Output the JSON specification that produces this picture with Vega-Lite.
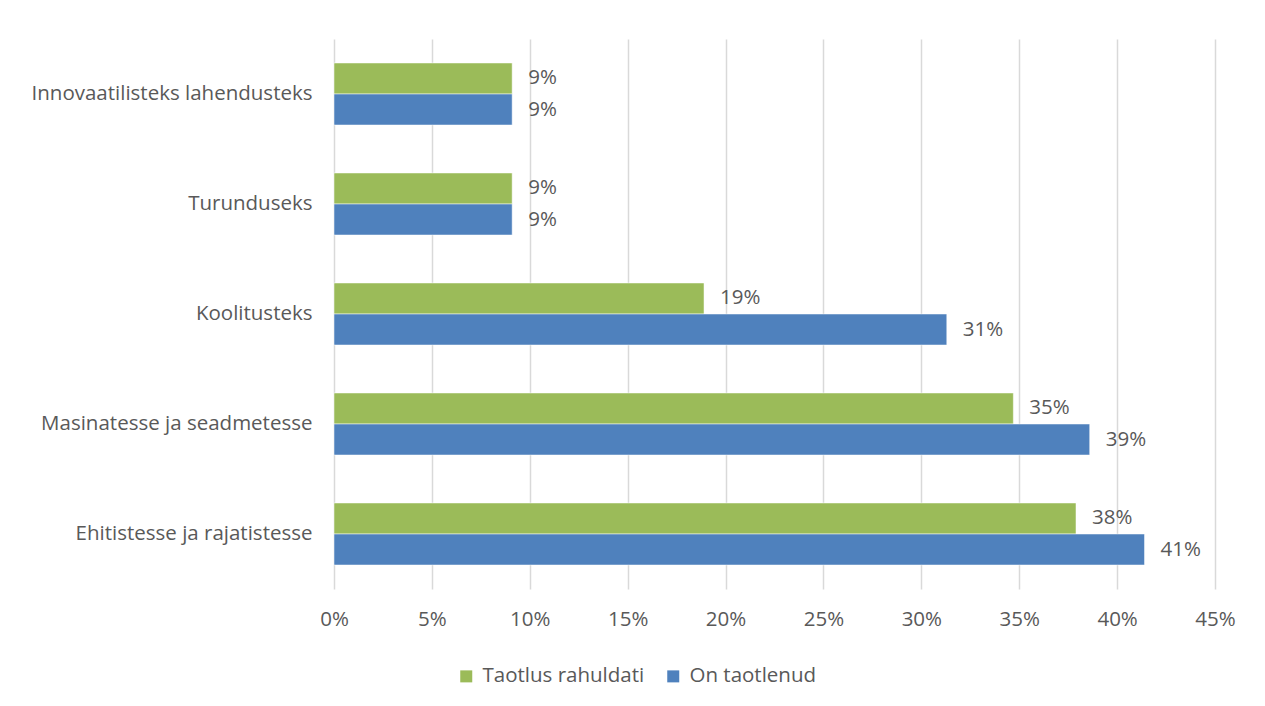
{
  "$schema": "https://vega.github.io/schema/vega-lite/v6.json",
  "width": 881,
  "height": 550,
  "autosize": {"type": "none"},
  "padding": {"left": 334, "top": 39, "right": 50, "bottom": 117},
  "background": "white",
  "config": {
    "view": {"stroke": null},
    "font": "Open Sans",
    "axis": {"labelFont": "Open Sans", "labelColor": "#595959", "labelFontSize": 20.5, "gridColor": "#d9d9d9", "gridWidth": 1.5, "labelLimit": 400}
  },
  "data": {
    "values": [
      {"kategooria": "Innovaatilisteks lahendusteks", "seeria": "Taotlus rahuldati", "vaartus": 0.091},
      {"kategooria": "Innovaatilisteks lahendusteks", "seeria": "On taotlenud", "vaartus": 0.091},
      {"kategooria": "Turunduseks", "seeria": "Taotlus rahuldati", "vaartus": 0.091},
      {"kategooria": "Turunduseks", "seeria": "On taotlenud", "vaartus": 0.091},
      {"kategooria": "Koolitusteks", "seeria": "Taotlus rahuldati", "vaartus": 0.189},
      {"kategooria": "Koolitusteks", "seeria": "On taotlenud", "vaartus": 0.313},
      {"kategooria": "Masinatesse ja seadmetesse", "seeria": "Taotlus rahuldati", "vaartus": 0.347},
      {"kategooria": "Masinatesse ja seadmetesse", "seeria": "On taotlenud", "vaartus": 0.386},
      {"kategooria": "Ehitistesse ja rajatistesse", "seeria": "Taotlus rahuldati", "vaartus": 0.379},
      {"kategooria": "Ehitistesse ja rajatistesse", "seeria": "On taotlenud", "vaartus": 0.414}
    ]
  },
  "encoding": {
    "y": {
      "field": "kategooria", "type": "nominal", "title": null,
      "sort": ["Innovaatilisteks lahendusteks", "Turunduseks", "Koolitusteks", "Masinatesse ja seadmetesse", "Ehitistesse ja rajatistesse"],
      "scale": {"paddingInner": 0.436, "paddingOuter": 0.218},
      "axis": {"ticks": false, "domain": false, "labelPadding": 22}
    },
    "yOffset": {
      "field": "seeria", "type": "nominal",
      "sort": ["Taotlus rahuldati", "On taotlenud"],
      "scale": {"paddingInner": 0, "paddingOuter": 0}
    },
    "x": {
      "field": "vaartus", "type": "quantitative", "title": null,
      "scale": {"domain": [0, 0.45], "nice": false},
      "axis": {"format": ".0%", "values": [0, 0.05, 0.1, 0.15, 0.2, 0.25, 0.3, 0.35, 0.4, 0.45], "ticks": false, "domain": false, "labelPadding": 20, "labelFlush": false, "grid": true}
    }
  },
  "layer": [
    {
      "mark": {"type": "bar", "stroke": "white", "strokeWidth": 0.5},
      "encoding": {
        "color": {
          "field": "seeria", "type": "nominal",
          "sort": ["Taotlus rahuldati", "On taotlenud"],
          "scale": {"domain": ["Taotlus rahuldati", "On taotlenud"], "range": ["#9bbb59", "#4f81bd"]},
          "legend": {
            "title": null, "orient": "none", "direction": "horizontal",
            "legendX": 122, "legendY": 627,
            "symbolType": "square", "symbolSize": 144, "symbolStrokeWidth": 0,
            "labelFont": "Open Sans", "labelFontSize": 20.5, "labelColor": "#595959",
            "labelOffset": 6, "columnPadding": 18, "labelLimit": 300
          }
        }
      }
    },
    {
      "mark": {"type": "text", "align": "left", "baseline": "middle", "dx": 16, "fontSize": 20.5, "color": "#595959", "font": "Open Sans"},
      "encoding": {
        "text": {"field": "vaartus", "type": "quantitative", "format": ".0%"}
      }
    }
  ]
}
